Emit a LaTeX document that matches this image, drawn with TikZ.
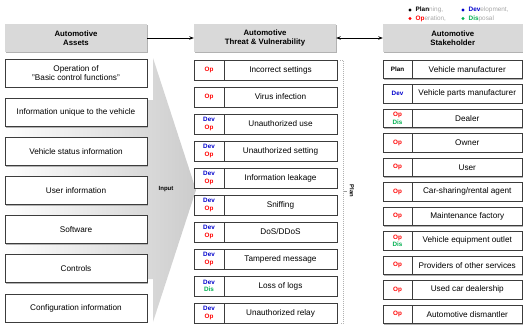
\documentclass[tikz,border=0pt]{standalone}
\usepackage{fontspec}
\setmainfont{Liberation Sans}
\usetikzlibrary{arrows.meta,shadows}
\definecolor{opred}{HTML}{FF0000}
\definecolor{devblue}{HTML}{0000CC}
\definecolor{disgreen}{HTML}{00B050}
\definecolor{headgray}{HTML}{D9D9D9}
\definecolor{edgegray}{HTML}{3C3C3C}
\definecolor{softgray}{HTML}{A6A6A6}

\newcommand\OpT{{\color{opred}Op}}
\newcommand\DevT{{\color{devblue}Dev}}
\newcommand\DisT{{\color{disgreen}Dis}}
\newcommand\PlanT{{\color{black}Plan}}

% one threat row: name, centre y, tag text, description
\newcommand\threatrow[4]{%
  \node[tbox] (#1) at (265.5,#2) {};
  \node[tagcell, minimum width=30pt, minimum height=20pt, anchor=west] (#1tag) at (#1.west) {#3};
  \node[rowtext] (#1txt) at (280.5,#2) {#4};
}
% one stakeholder row: name, centre y, tag text, description
\newcommand\holderrow[4]{%
  \node[sbox] (#1) at (452.75,#2) {};
  \node[tagcell, minimum width=29pt, minimum height=18.5pt, anchor=west] (#1tag) at (#1.west) {#3};
  \node[rowtext] (#1txt) at (467.25,#2) {#4};
}

\begin{document}
\begin{tikzpicture}[x=1pt,y=-1pt,
  boxshadow/.style={drop shadow={shadow xshift=0.6pt, shadow yshift=-1.3pt, fill=black!30, opacity=1}},
  head/.style={fill=headgray, minimum height=28pt, inner sep=0pt, align=center,
    font=\bfseries\fontsize{7.8}{9.4}\selectfont, boxshadow},
  abox/.style={draw=edgegray, line width=0.8pt, fill=white, minimum width=142pt, minimum height=28pt,
    inner sep=0pt, align=center, font=\fontsize{8.2}{9.6}\selectfont, boxshadow},
  tbox/.style={draw=edgegray, line width=0.8pt, fill=white, minimum width=143pt, minimum height=20pt,
    inner sep=0pt, boxshadow},
  sbox/.style={draw=edgegray, line width=0.8pt, fill=white, minimum width=139.5pt, minimum height=18.5pt,
    inner sep=0pt, boxshadow},
  tagcell/.style={draw=edgegray, line width=0.8pt, fill=white, inner sep=0pt, align=center,
    font=\bfseries\fontsize{6.3}{7.6}\selectfont},
  rowtext/.style={inner sep=0pt, font=\fontsize{8.2}{9.6}\selectfont},
  legend/.style={inner sep=0pt, anchor=west, font=\fontsize{6.4}{7.2}\selectfont, text=softgray},
  dot/.style={circle, inner sep=0pt, minimum size=3.2pt},
  flow/.style={line width=0.9pt, black}
]
\useasboundingbox (0,0) rectangle (523,325);

% funnel feeding the assets into the threats
\shade[left color=white, right color=black!20]
  (0,100) -- (153,100) -- (153,58) -- (196,190) -- (153,322) -- (153,279) -- (0,279) -- cycle;

% legend
\node[dot, fill=black]     (lgP) at (410,10) {};
\node[legend] (lgPt) at (415.5,10) {{\bfseries\color{black}Plan}ning,};
\node[dot, fill=devblue]   (lgD) at (463,10) {};
\node[legend] (lgDt) at (468.5,10) {{\bfseries\color{devblue}Dev}elopment,};
\node[dot, fill=opred]     (lgO) at (410,18.5) {};
\node[legend] (lgOt) at (415.5,18.5) {{\bfseries\color{opred}Op}eration,};
\node[dot, fill=disgreen]  (lgS) at (463,18.5) {};
\node[legend] (lgSt) at (468.5,18.5) {{\bfseries\color{disgreen}Dis}posal};

% column headers
\node[head, minimum width=142pt] (hA) at (76,38) {Automotive\\Assets};
\node[head, minimum width=142pt] (hT) at (265,38) {Automotive\\Threat \& Vulnerability};
\node[head, minimum width=139.5pt] (hS) at (452.75,38) {Automotive\\Stakeholder};
\draw[flow, -{Stealth[length=4.5pt,width=3.5pt]}] (hA.east) -- (hT.west);
\draw[flow, {Stealth[length=4.5pt,width=3.5pt]}-{Stealth[length=4.5pt,width=3.5pt]}] (hT.east) -- (hS.west);

% assets
\node[abox] (a1) at (76,73)    {Operation of\\"Basic control functions"};
\node[abox] (a2) at (76,112.2) {Information unique to the vehicle};
\node[abox] (a3) at (76,151.3) {Vehicle status information};
\node[abox] (a4) at (76,190.5) {User information};
\node[abox] (a5) at (76,229.7) {Software};
\node[abox] (a6) at (76,268.8) {Controls};
\node[abox] (a7) at (76,308)   {Configuration information};

\node[inner sep=0pt, font=\bfseries\fontsize{6}{7}\selectfont] (inp) at (166,189.5) {Input};

% threats and vulnerabilities
\threatrow{t1}{70}{\OpT}{Incorrect settings}
\threatrow{t2}{97}{\OpT}{Virus infection}
\threatrow{t3}{124}{\DevT\\\OpT}{Unauthorized use}
\threatrow{t4}{151}{\DevT\\\OpT}{Unauthorized setting}
\threatrow{t5}{178}{\DevT\\\OpT}{Information leakage}
\threatrow{t6}{205}{\DevT\\\OpT}{Sniffing}
\threatrow{t7}{232}{\DevT\\\OpT}{DoS/DDoS}
\threatrow{t8}{259}{\DevT\\\OpT}{Tampered message}
\threatrow{t9}{286}{\DevT\\\DisT}{Loss of logs}
\threatrow{t10}{313}{\DevT\\\OpT}{Unauthorized relay}

% planning bracket along the threat column
\coordinate (bTop) at (340,60);
\coordinate (bTopR) at (343.5,60);
\coordinate (bMid) at (343.5,191);
\coordinate (bMidR) at (347,191);
\coordinate (bBotR) at (343.5,323);
\coordinate (bBot) at (340,323);
\draw[black!30, densely dotted, line width=1pt] (bTop) -- (bTopR) -- (bBotR) -- (bBot);
\draw[black!40, line width=0.5pt] (bMid) -- (bMidR);
\node[inner sep=0pt, rotate=-90, font=\bfseries\fontsize{5.8}{6.8}\selectfont] (planlbl) at (352,191) {Plan};

% stakeholders
\holderrow{s1}{69.25}{\PlanT}{Vehicle manufacturer}
\holderrow{s2}{93.75}{\DevT}{Vehicle parts manufacturer}
\holderrow{s3}{118.25}{\OpT\\\DisT}{Dealer}
\holderrow{s4}{142.75}{\OpT}{Owner}
\holderrow{s5}{167.25}{\OpT}{User}
\holderrow{s6}{191.75}{\OpT}{Car-sharing/rental agent}
\holderrow{s7}{216.25}{\OpT}{Maintenance factory}
\holderrow{s8}{240.75}{\OpT\\\DisT}{Vehicle equipment outlet}
\holderrow{s9}{265.25}{\OpT}{Providers of other services}
\holderrow{s10}{289.75}{\OpT}{Used car dealership}
\holderrow{s11}{314.25}{\OpT}{Automotive dismantler}
\end{tikzpicture}
\end{document}
